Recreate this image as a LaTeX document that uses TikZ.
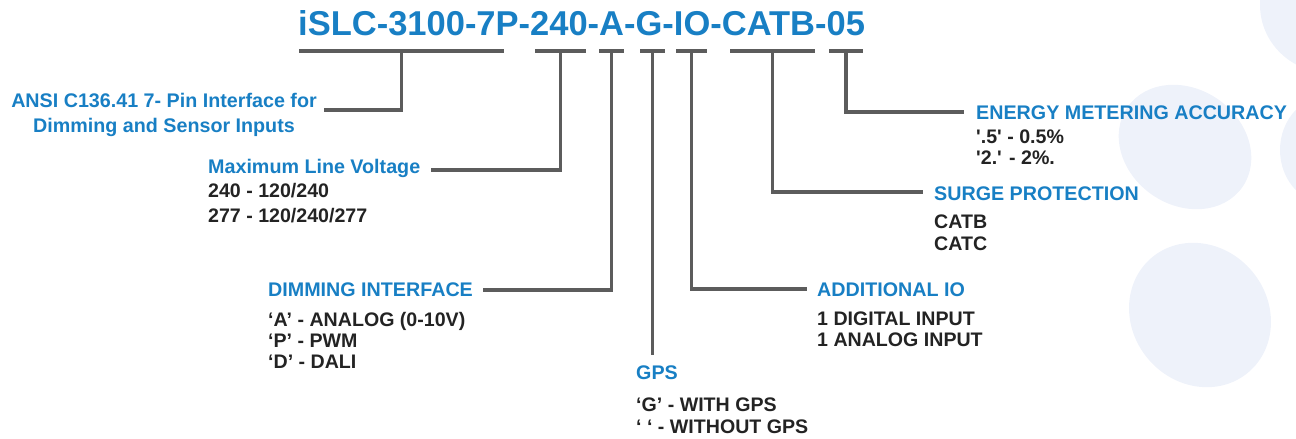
\documentclass[tikz,border=0pt]{standalone}
\usepackage{fontspec}
\setmainfont{Liberation Sans}
\usetikzlibrary{calc,positioning}
\definecolor{codeblue}{RGB}{24,127,196}
\definecolor{leadgray}{RGB}{92,92,92}
\definecolor{bodyink}{RGB}{35,35,35}
\definecolor{blobfill}{RGB}{238,242,250}
\tikzset{
  head/.style={anchor=base west, inner sep=0pt, text=codeblue,
    font=\bfseries\fontsize{19.7}{25}\selectfont},
  body/.style={anchor=base west, inner sep=0pt, align=left, text=bodyink,
    font=\bfseries\fontsize{19.6}{21}\selectfont},
  seg/.style={fill=leadgray, inner sep=0pt, minimum height=3.5pt},
  lead/.style={draw=leadgray, line width=3.5pt, line join=miter},
  blob/.style={fill=blobfill, draw=none}
}
\begin{document}
\begin{tikzpicture}[x=1pt, y=-1pt]
  \useasboundingbox (0,0) rectangle (1296,439);

  % ---- pale background blobs ----
  \fill[blob] (1330,5) ellipse [x radius=70pt, y radius=68pt];
  \fill[blob, rotate around={-35:(1185,147)}] (1185,147) ellipse [x radius=70pt, y radius=58pt];
  \fill[blob] (1330,150) ellipse [x radius=50pt, y radius=55pt];
  \fill[blob, rotate around={-50:(1200,315)}] (1200,315) ellipse [x radius=75pt, y radius=68pt];

  % ---- part number and the bars under its fields ----
  \node[anchor=base west, inner sep=0pt, text=codeblue,
    font=\bfseries\fontsize{34.5}{40}\selectfont] (code) at (298,35) {iSLC-3100-7P-240-A-G-IO-CATB-05};

  \node[seg, minimum width=205pt] (segA) at (401.5,51) {};
  \node[seg, minimum width=51pt]  (segB) at (560.5,51) {};
  \node[seg, minimum width=25pt]  (segC) at (611.5,51) {};
  \node[seg, minimum width=25pt]  (segD) at (652.5,51) {};
  \node[seg, minimum width=31pt]  (segE) at (691.5,51) {};
  \node[seg, minimum width=85pt]  (segF) at (772.5,51) {};
  \node[seg, minimum width=34pt]  (segG) at (846,51) {};

  % ---- left-hand fields (base of a two-line node = its last line) ----
  \node[head, anchor=base, align=center] (ansi) at (164,132)
    {ANSI C136.41 7- Pin Interface for\\Dimming and Sensor Inputs};

  \node[head] (volt) at (208,173) {Maximum Line Voltage};
  \node[body, font=\bfseries\fontsize{19.6}{25}\selectfont] (voltbody) at ([yshift=-49pt]volt.base west)
    {240 - 120/240\\277 - 120/240/277};

  \node[head] (dim) at (268,296) {DIMMING INTERFACE};
  \node[body] (dimbody) at ([yshift=-72pt]dim.base west)
    {‘A’ - ANALOG (0-10V)\\‘P’ - PWM\\‘D’ - DALI};

  \node[head] (gps) at (636,379) {GPS};
  \node[body, font=\bfseries\fontsize{19.6}{22}\selectfont] (gpsbody) at ([yshift=-54pt]gps.base west)
    {‘G’ - WITH GPS\\‘ ‘ - WITHOUT GPS};

  % ---- right-hand fields ----
  \node[head] (io) at (817,296) {ADDITIONAL IO};
  \node[body] (iobody) at ([yshift=-50pt]io.base west)
    {1 DIGITAL INPUT\\1 ANALOG INPUT};

  \node[head] (surge) at (934,200) {SURGE PROTECTION};
  \node[body, font=\bfseries\fontsize{19.6}{22}\selectfont] (surgebody) at ([yshift=-50pt]surge.base west)
    {CATB\\CATC};

  \node[head] (energy) at (976,119) {ENERGY METERING ACCURACY};
  \node[body] (energybody) at ([yshift=-45pt]energy.base west)
    {\textquotesingle.5\textquotesingle{} - 0.5\%\\\textquotesingle 2.\textquotesingle{} - 2\%.};

  % ---- leader lines ----
  \draw[lead] (segA.center) |- ([shift={(7pt,22pt)}]ansi.base east);
  \draw[lead] (segB.center) |- ([shift={(11pt,3pt)}]volt.base east);
  \draw[lead] (segC.center) |- ([shift={(10pt,6pt)}]dim.base east);
  \draw[lead, shorten >=10pt] (segD.center) -- (segD.center |- gps.north);
  \draw[lead] (segE.center) |- ([shift={(-10pt,7pt)}]io.base west);
  \draw[lead] (segF.center) |- ([shift={(-11pt,8pt)}]surge.base west);
  \draw[lead] (segG.center) |- ([shift={(-12pt,7pt)}]energy.base west);

\end{tikzpicture}
\end{document}
